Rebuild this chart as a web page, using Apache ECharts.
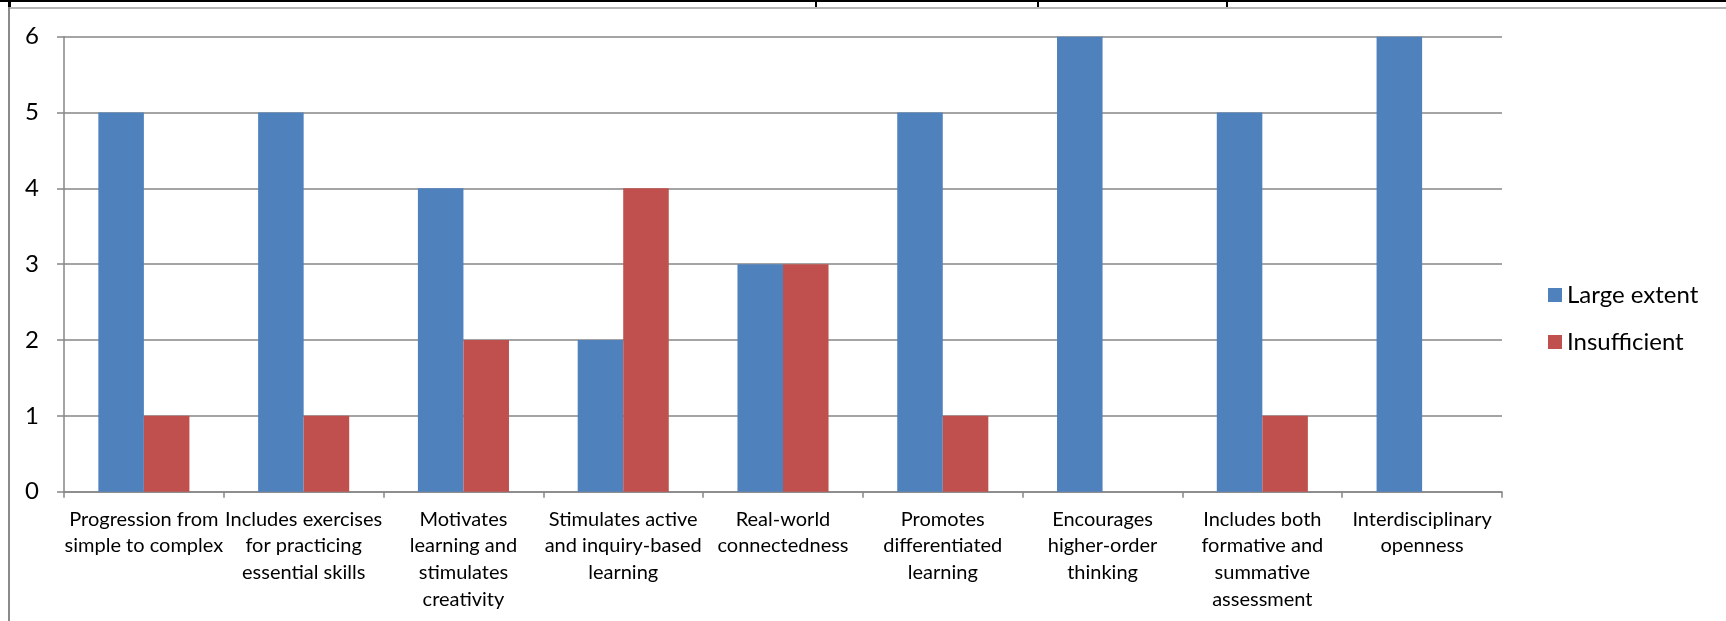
<!DOCTYPE html>
<html>
<head>
<meta charset="utf-8">
<script src="https://cdn.jsdelivr.net/npm/echarts@6/dist/echarts.min.js"></script>
<style>
  html, body { margin: 0; padding: 0; background: #fff; }
  #chart { width: 1726px; height: 621px; }
</style>
</head>
<body>
<div id="chart"></div>
<script>
// Criteria rated for the curriculum, with the count of responses per rating
const categories = [
  'Progression from\nsimple to complex',
  'Includes exercises\nfor practicing\nessential skills',
  'Motivates\nlearning and\nstimulates\ncreativity',
  'Stimulates active\nand inquiry-based\nlearning',
  'Real-world\nconnectedness',
  'Promotes\ndifferentiated\nlearning',
  'Encourages\nhigher-order\nthinking',
  'Includes both\nformative and\nsummative\nassessment',
  'Interdisciplinary\nopenness'
];
const largeExtent = [5, 5, 4, 2, 3, 5, 6, 5, 6];
const insufficient = [1, 1, 2, 4, 3, 1, 0, 1, 0];
const yTicks = { min: 0, max: 6, interval: 1 };

const FONT = 'Lato';
const GRID_GREY = '#868686';

const chart = echarts.init(document.getElementById('chart'), null, { renderer: 'canvas' });

chart.setOption({
  backgroundColor: '#ffffff',
  animation: false,
  textStyle: { fontFamily: FONT },
  grid: { left: 64, right: 224, top: 36.7, bottom: 129.3, containLabel: false },
  legend: {
    orient: 'vertical',
    left: 1543,
    top: 278,
    itemWidth: 14,
    itemHeight: 14,
    itemGap: 23,
    icon: 'rect',
    textStyle: { fontFamily: FONT, fontSize: 24, color: '#000', lineHeight: 22, padding: [0, 0, 0, 0] },
    data: ['Large extent', 'Insufficient']
  },
  xAxis: {
    type: 'category',
    data: categories,
    axisLine: { show: true, lineStyle: { color: GRID_GREY, width: 1.5 } },
    axisTick: { show: true, length: 6, lineStyle: { color: GRID_GREY, width: 1.5 } },
    axisLabel: {
      interval: 0,
      margin: 14,
      fontFamily: FONT,
      fontSize: 20,
      lineHeight: 26.8,
      color: '#000',
      align: 'center'
    },
    splitLine: { show: false }
  },
  yAxis: {
    type: 'value',
    min: yTicks.min,
    max: yTicks.max,
    interval: yTicks.interval,
    axisLine: { show: true, lineStyle: { color: GRID_GREY, width: 1.5 } },
    axisTick: { show: true, length: 7, lineStyle: { color: GRID_GREY, width: 1.5 } },
    axisLabel: { margin: 25, fontFamily: FONT, fontSize: 24, color: '#000' },
    splitLine: { show: true, lineStyle: { color: GRID_GREY, width: 1.5 } }
  },
  series: [
    {
      name: 'Large extent',
      type: 'bar',
      data: largeExtent,
      barGap: '0%',
      barCategoryGap: '43%',
      itemStyle: { color: '#4F81BD' }
    },
    {
      name: 'Insufficient',
      type: 'bar',
      data: insufficient,
      barGap: '0%',
      barCategoryGap: '43%',
      itemStyle: { color: '#C0504D' }
    }
  ],
  graphic: [
    // page frame around the chart
    { type: 'rect', shape: { x: 0, y: 0, width: 1726, height: 2 }, style: { fill: '#000' }, silent: true },
    { type: 'rect', shape: { x: 9, y: 7, width: 1717, height: 2 }, style: { fill: '#b4b4b4' }, silent: true },
    { type: 'rect', shape: { x: 8, y: 7, width: 2, height: 614 }, style: { fill: '#8a8a8a' }, silent: true },
    { type: 'rect', shape: { x: 8, y: 0, width: 3, height: 7 }, style: { fill: '#000' }, silent: true },
    { type: 'rect', shape: { x: 815, y: 0, width: 2, height: 7 }, style: { fill: '#000' }, silent: true },
    { type: 'rect', shape: { x: 1037, y: 0, width: 2, height: 7 }, style: { fill: '#000' }, silent: true },
    { type: 'rect', shape: { x: 1226, y: 0, width: 2, height: 7 }, style: { fill: '#000' }, silent: true }
  ]
});
</script>
</body>
</html>
